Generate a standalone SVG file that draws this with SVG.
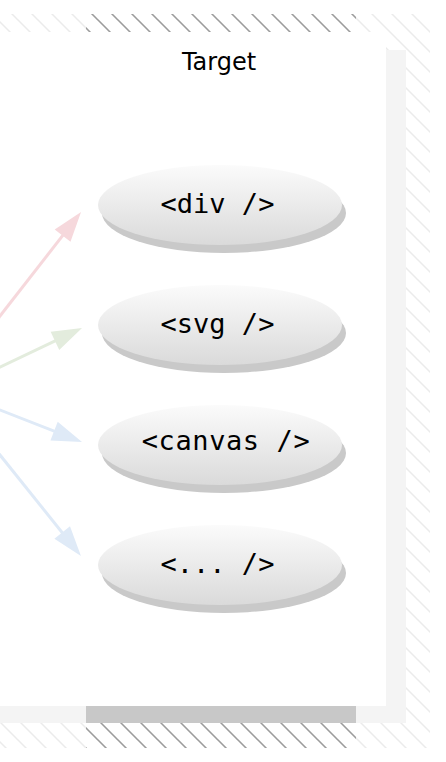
<svg xmlns="http://www.w3.org/2000/svg" width="446" height="762" viewBox="0 0 446 762">
<style>
.node-text{font-family:"DejaVu Sans Mono","Liberation Mono",monospace;font-size:27px;fill:#000;text-anchor:middle}
.title{font-family:"DejaVu Sans","Liberation Sans",sans-serif;font-size:24px;fill:#000;text-anchor:middle}
.shadow{fill:#c9c9c9}
.body{fill:url(#nodeGrad)}
.edge{fill:none;stroke-width:3}
</style>
<defs>
<pattern id="hatchLight" patternUnits="userSpaceOnUse" x="18" y="0" width="20" height="20">
<path d="M-2,-2 L22,22 M-2,18 L2,22 M18,-2 L22,2" stroke="#ebebeb" stroke-width="1.5"/>
</pattern>
<pattern id="hatchDark" patternUnits="userSpaceOnUse" x="18" y="0" width="20" height="20">
<path d="M-2,-2 L22,22 M-2,18 L2,22 M18,-2 L22,2" stroke="#9c9c9c" stroke-width="1.5"/>
</pattern>
<linearGradient id="nodeGrad" x1="0" y1="0" x2="0" y2="1">
<stop offset="0" stop-color="#fbfbfb"/>
<stop offset="1" stop-color="#dadada"/>
</linearGradient>
<marker id="arrPink" markerUnits="userSpaceOnUse" viewBox="-24 -12 36 24" refX="0" refY="0" markerWidth="36" markerHeight="24" orient="auto">
<path d="M10,0 L-20,-10 L-20,10 Z" fill="#f6d8dc"/>
</marker>
<marker id="arrGreen" markerUnits="userSpaceOnUse" viewBox="-24 -12 36 24" refX="0" refY="0" markerWidth="36" markerHeight="24" orient="auto">
<path d="M10,0 L-20,-10 L-20,10 Z" fill="#e3ecdd"/>
</marker>
<marker id="arrBlue" markerUnits="userSpaceOnUse" viewBox="-24 -12 36 24" refX="0" refY="0" markerWidth="36" markerHeight="24" orient="auto">
<path d="M10,0 L-20,-10 L-20,10 Z" fill="#dfeaf7"/>
</marker>
</defs>
<rect width="446" height="762" fill="#ffffff"/>
<g id="frame">
<rect x="0" y="14" width="430" height="734" fill="url(#hatchLight)"/>
<rect x="86" y="14" width="270" height="18" fill="url(#hatchDark)"/>
<rect x="86" y="723" width="270" height="25" fill="url(#hatchDark)"/>
<rect x="0" y="50" width="406" height="673" fill="#f4f4f4"/>
<rect x="86" y="706" width="270" height="17" fill="#c8c8c8"/>
<rect x="0" y="32" width="386" height="674" fill="#ffffff"/>
<text class="title" x="219" y="70">Target</text>
</g>
<g id="connectors">
<path class="edge" d="M-10,328.8 L74.9,219.9" stroke="#f6d8dc" marker-end="url(#arrPink)"/>
<path class="edge" d="M-10,371.8 L73,332.3" stroke="#e3ecdd" marker-end="url(#arrGreen)"/>
<path class="edge" d="M-10,406.1 L72.7,438.4" stroke="#dfeaf7" marker-end="url(#arrBlue)"/>
<path class="edge" d="M-10,442.5 L74.7,548.2" stroke="#dfeaf7" marker-end="url(#arrBlue)"/>
</g>
<g id="node-div">
<ellipse class="shadow" cx="224" cy="213" rx="122" ry="40"/>
<ellipse class="body" cx="220" cy="205" rx="122" ry="40"/>
<text class="node-text" x="217.5" y="213">&lt;div /&gt;</text>
</g>
<g id="node-svg">
<ellipse class="shadow" cx="224" cy="333" rx="122" ry="40"/>
<ellipse class="body" cx="220" cy="325" rx="122" ry="40"/>
<text class="node-text" x="217.5" y="333">&lt;svg /&gt;</text>
</g>
<g id="node-canvas">
<ellipse class="shadow" cx="224" cy="453" rx="122" ry="40"/>
<ellipse class="body" cx="220" cy="445" rx="122" ry="40"/>
<text class="node-text" x="226" y="450" font-size="25" letter-spacing="0.6">&lt;canvas /&gt;</text>
</g>
<g id="node-etc">
<ellipse class="shadow" cx="224" cy="573" rx="122" ry="40"/>
<ellipse class="body" cx="220" cy="565" rx="122" ry="40"/>
<text class="node-text" x="217.5" y="573">&lt;... /&gt;</text>
</g>
</svg>
